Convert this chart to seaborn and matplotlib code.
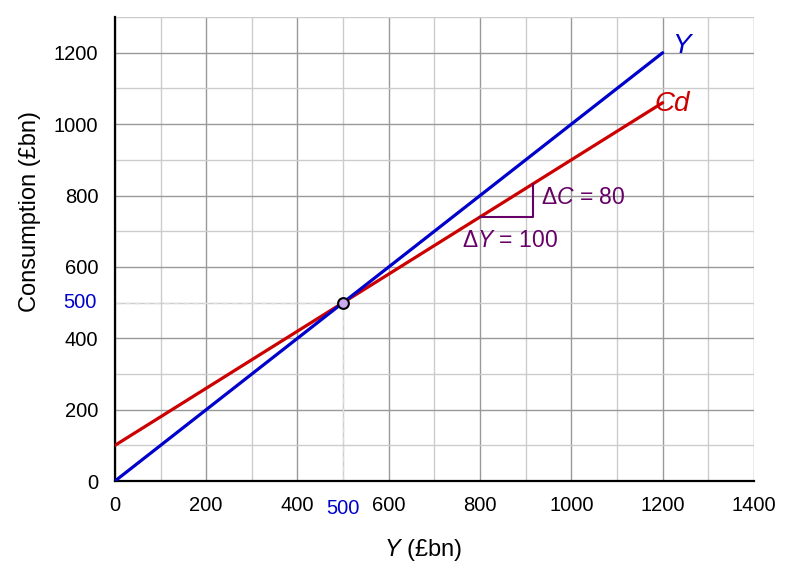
import matplotlib
matplotlib.use("Agg")
import matplotlib.pyplot as plt
import seaborn as sns
import pandas as pd
import numpy as np

income = [0, 1200]
y_line = [0, 1200]
cd_line = [100, 1060]
eq_x, eq_y = 500, 500
tri_x = [800, 915, 915]
tri_y = [740, 740, 832]

sns.set_theme(style="white")
plt.rcParams['font.family'] = ['Liberation Sans', 'DejaVu Sans']
plt.rcParams['mathtext.fontset'] = 'custom'
plt.rcParams['mathtext.rm'] = 'Liberation Sans'
plt.rcParams['mathtext.it'] = 'Liberation Sans:italic'

fig, ax = plt.subplots(figsize=(8.09, 5.68), dpi=100)
fig.subplots_adjust(left=0.142, right=0.932, top=0.97, bottom=0.153)

df = pd.DataFrame({"Y": income, "Yl": y_line, "Cd": cd_line})

ax.set_xlim(0, 1400)
ax.set_ylim(0, 1300)
ax.set_xticks(range(0, 1401, 200))
ax.set_yticks(range(0, 1201, 200))
ax.set_xticks(range(0, 1401, 100), minor=True)
ax.set_yticks(range(0, 1301, 100), minor=True)
ax.grid(which="major", color="#999999", lw=1)
ax.grid(which="minor", color="#cccccc", lw=1)
ax.set_axisbelow(True)
for s in ["top", "right"]:
    ax.spines[s].set_visible(False)
for s in ["left", "bottom"]:
    ax.spines[s].set_color("black")
    ax.spines[s].set_linewidth(1.6)
ax.tick_params(which="major", direction="out", length=5, width=1.4, color="black",
               labelsize=14.5, labelcolor="black")
ax.tick_params(axis="y", which="major", pad=7)
ax.tick_params(axis="x", which="major", pad=6)
ax.tick_params(which="minor", length=0)

ax.plot([0, eq_x], [eq_y, eq_y], ls=(0, (4, 3)), color="#dddddd", lw=1, zorder=2)
ax.plot([eq_x, eq_x], [0, eq_y], ls=(0, (4, 3)), color="#dddddd", lw=1, zorder=2)

sns.lineplot(data=df, x="Y", y="Cd", color="#cc0000", lw=2.3, ax=ax, zorder=3)
sns.lineplot(data=df, x="Y", y="Yl", color="#0000cc", lw=2.3, ax=ax, zorder=4)

ax.plot(tri_x, tri_y, color="#660066", lw=1.5, zorder=5, clip_on=False)
ax.scatter([eq_x], [eq_y], s=60, facecolor="#ccaaee", edgecolor="black", lw=1.5, zorder=6)

ax.text(933, 795, r"$\Delta C$ = 80", color="#660066", fontsize=16.5, va="center", ha="left")
ax.text(760, 675, r"$\Delta Y$ = 100", color="#660066", fontsize=16.5, va="center", ha="left")

ax.text(1220, 1218, "Y", color="#0000cc", fontsize=20, style="italic", va="center", ha="left")
ax.text(1183, 1055, "Cd", color="#cc0000", fontsize=20, style="italic", va="center", ha="left")

ax.text(-40, eq_y, "500", color="#0000cc", fontsize=14.5, va="center", ha="right")
ax.text(eq_x, -77, "500", color="#0000cc", fontsize=14.5, va="center", ha="center")

ax.set_ylabel("Consumption (£bn)", fontsize=17, color="black")
ax.yaxis.set_label_coords(-0.115, 0.58)
ax.set_xlabel(r"$Y$ (£bn)", fontsize=17, color="black")
ax.xaxis.set_label_coords(0.482, -0.12)

fig.savefig("out.png", dpi=100)
